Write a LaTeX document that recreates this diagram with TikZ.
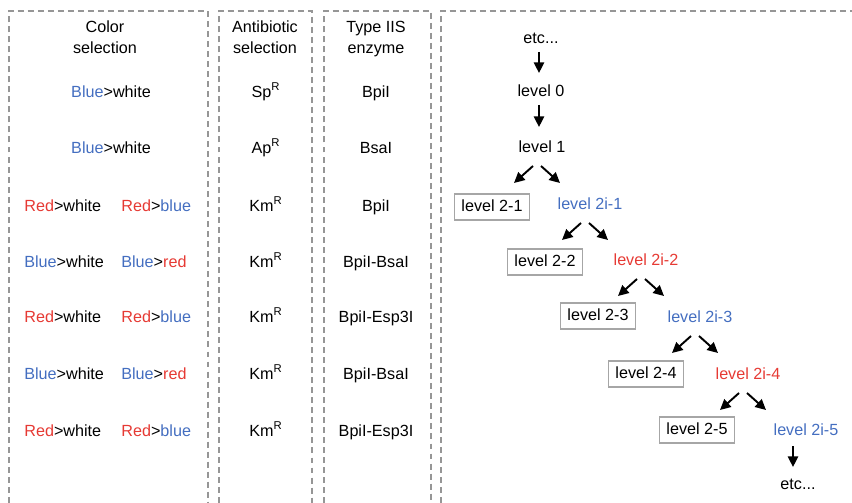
\documentclass[tikz,border=0pt]{standalone}
\usepackage{fontspec}
\setmainfont{Liberation Sans}
\usetikzlibrary{arrows.meta,calc}
\definecolor{sel_blue}{RGB}{68, 110, 192}
\definecolor{sel_red}{RGB}{230, 58, 52}
\definecolor{panel_gray}{RGB}{150, 150, 150}
\newcommand{\bluetxt}[1]{\textcolor{sel_blue}{#1}}
\newcommand{\redtxt}[1]{\textcolor{sel_red}{#1}}
\tikzstyle{txt}=[inner sep=0pt,text height=7pt,text depth=2pt,
  font=\fontsize{9.2}{11}\selectfont]
\tikzstyle{bl}=[txt,text=sel_blue]
\tikzstyle{rd}=[txt,text=sel_red]
\tikzstyle{box}=[txt,draw=panel_gray!85,line width=1.1pt,minimum width=1.5cm,
  minimum height=0.52cm]
\tikzstyle{panel}=[draw=panel_gray,line width=0.7pt,dash pattern=on 3.4pt off 2.3pt]
\tikzstyle{arr}=[-{Triangle[length=6pt,width=5.8pt]},line width=1.1pt]

\begin{document}
\begin{tikzpicture}[x=0.02cm,y=-0.02cm]
            \useasboundingbox (0,0) rectangle (852,503);
            % panels
            \draw [style=panel] (9,503) -- (9,11) -- (208,11) -- (208,503);
            \draw [style=panel] (219,503) -- (219,11) -- (312,11) -- (312,503);
            \draw [style=panel] (324,503) -- (324,11) -- (431,11) -- (431,503);
            \draw [style=panel] (441,503) -- (441,11) -- (852,11);
            % headers
            \node [style=txt] (0) at (105, 28) {Color};
            \node [style=txt] (1) at (105, 49) {selection};
            \node [style=txt] (2) at (265, 28) {Antibiotic};
            \node [style=txt] (3) at (265, 49) {selection};
            \node [style=txt] (4) at (376, 28) {Type IIS};
            \node [style=txt] (5) at (376, 49) {enzyme};
            % color selection
            \node [style=txt] (10) at (111, 93) {\bluetxt{Blue}>white};
            \node [style=txt] (11) at (111, 149) {\bluetxt{Blue}>white};
            \node [style=txt, anchor=west] (12) at (24, 207) {\redtxt{Red}>white};
            \node [style=txt, anchor=west] (13) at (121, 207) {\redtxt{Red}>\bluetxt{blue}};
            \node [style=txt, anchor=west] (14) at (24, 263) {\bluetxt{Blue}>white};
            \node [style=txt, anchor=west] (15) at (121, 263) {\bluetxt{Blue}>\redtxt{red}};
            \node [style=txt, anchor=west] (16) at (24, 318) {\redtxt{Red}>white};
            \node [style=txt, anchor=west] (17) at (121, 318) {\redtxt{Red}>\bluetxt{blue}};
            \node [style=txt, anchor=west] (18) at (24, 375) {\bluetxt{Blue}>white};
            \node [style=txt, anchor=west] (19) at (121, 375) {\bluetxt{Blue}>\redtxt{red}};
            \node [style=txt, anchor=west] (20) at (24, 432) {\redtxt{Red}>white};
            \node [style=txt, anchor=west] (21) at (121, 432) {\redtxt{Red}>\bluetxt{blue}};
            % antibiotic selection
            \node [style=txt] (22) at (266, 93) {Sp\textsuperscript{R}};
            \node [style=txt] (23) at (266, 149) {Ap\textsuperscript{R}};
            \node [style=txt] (24) at (266, 207) {Km\textsuperscript{R}};
            \node [style=txt] (25) at (266, 263) {Km\textsuperscript{R}};
            \node [style=txt] (26) at (266, 318) {Km\textsuperscript{R}};
            \node [style=txt] (27) at (266, 375) {Km\textsuperscript{R}};
            \node [style=txt] (28) at (266, 432) {Km\textsuperscript{R}};
            % enzymes
            \node [style=txt] (29) at (376, 93) {BpiI};
            \node [style=txt] (30) at (376, 149) {BsaI};
            \node [style=txt] (31) at (376, 207) {BpiI};
            \node [style=txt] (32) at (376, 263) {BpiI-BsaI};
            \node [style=txt] (33) at (376, 318) {BpiI-Esp3I};
            \node [style=txt] (34) at (376, 375) {BpiI-BsaI};
            \node [style=txt] (35) at (376, 432) {BpiI-Esp3I};
            % levels
            \node [style=txt] (40) at (541, 39) {etc...};
            \node [style=txt] (41) at (541, 92) {level 0};
            \node [style=txt] (42) at (542, 148) {level 1};
            \node [style=box] (43) at (492, 207) {level 2-1};
            \node [style=bl] (44) at (590, 205) {level 2i-1};
            \node [style=box] (45) at (545, 262) {level 2-2};
            \node [style=rd] (46) at (646, 261) {level 2i-2};
            \node [style=box] (47) at (598, 316) {level 2-3};
            \node [style=bl] (48) at (700, 318) {level 2i-3};
            \node [style=box] (49) at (646, 374) {level 2-4};
            \node [style=rd] (50) at (748, 375) {level 2i-4};
            \node [style=box] (51) at (697, 430) {level 2-5};
            \node [style=bl] (52) at (806, 431) {level 2i-5};
            \node [style=txt] (53) at (798, 485) {etc...};
            \draw [style=arr] ($(40)+(-2,13)$) to ($(41)+(-2,-19)$);
            \draw [style=arr] ($(41)+(-2,13)$) to ($(42)+(-3,-21)$);
            \draw [style=arr] ($(42)+(-9,18)$) to ($(42)+(-28,35)$);
            \draw [style=arr] ($(42)+(-1,18)$) to ($(42)+(18,35)$);
            \draw [style=arr] ($(44)+(-9,18)$) to ($(44)+(-28,35)$);
            \draw [style=arr] ($(44)+(-1,18)$) to ($(44)+(18,35)$);
            \draw [style=arr] ($(46)+(-9,18)$) to ($(46)+(-28,35)$);
            \draw [style=arr] ($(46)+(-1,18)$) to ($(46)+(18,35)$);
            \draw [style=arr] ($(48)+(-9,18)$) to ($(48)+(-28,35)$);
            \draw [style=arr] ($(48)+(-1,18)$) to ($(48)+(18,35)$);
            \draw [style=arr] ($(50)+(-9,18)$) to ($(50)+(-28,35)$);
            \draw [style=arr] ($(50)+(-1,18)$) to ($(50)+(18,35)$);
            \draw [style=arr] ($(52)+(-13,15)$) to ($(53)+(-5,-18)$);
    \end{tikzpicture}
\end{document}
